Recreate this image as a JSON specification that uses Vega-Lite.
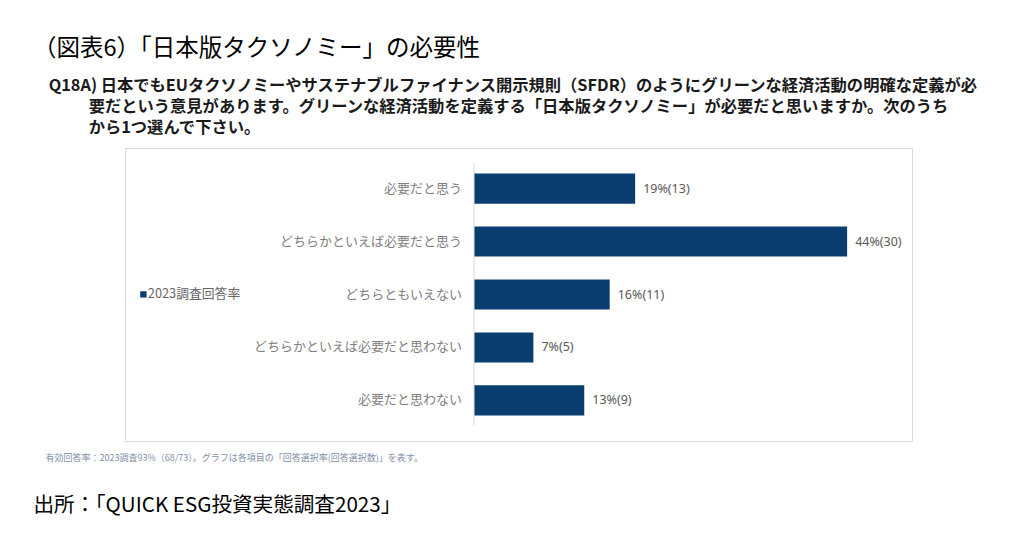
{
  "$schema": "https://vega.github.io/schema/vega-lite/v6.json",
  "width": 787,
  "height": 293,
  "autosize": {"type": "none"},
  "padding": {"left": 125, "top": 148, "right": 111, "bottom": 110},
  "background": "white",
  "config": {"font": "Noto Sans CJK JP", "view": {"stroke": "#d9d9d9", "strokeWidth": 1}},
  "title": {
    "text": "（図表6）「日本版タクソノミー」の必要性",
    "fontSize": 23.5,
    "fontWeight": "normal",
    "color": "#000000",
    "anchor": "start",
    "frame": "group",
    "dx": -92,
    "offset": 12,
    "subtitle": [
      "\u2800\u00a0Q18A) 日本でもEUタクソノミーやサステナブルファイナンス開示規則（SFDR）のようにグリーンな経済活動の明確な定義が必",
      "\u2800\u3000\u3000\u00a0\u00a0\u00a0要だという意見があります。グリーンな経済活動を定義する「日本版タクソノミー」が必要だと思いますか。次のうち",
      "\u2800\u3000\u3000\u00a0\u00a0\u00a0から1つ選んで下さい。"
    ],
    "subtitleFontSize": 16.3,
    "subtitleFontWeight": "bold",
    "subtitleColor": "#1a1a1a",
    "subtitleLineHeight": 21,
    "subtitlePadding": 17
  },
  "datasets": {
    "bars": [
      {"cat": "必要だと思う", "pct": 19, "n": 13},
      {"cat": "どちらかといえば必要だと思う", "pct": 44, "n": 30},
      {"cat": "どちらともいえない", "pct": 16, "n": 11},
      {"cat": "どちらかといえば必要だと思わない", "pct": 7, "n": 5},
      {"cat": "必要だと思わない", "pct": 13, "n": 9}
    ],
    "axisline": [{"top": "必要だと思う", "bottom": "必要だと思わない"}]
  },
  "layer": [
    {
      "data": {"name": "bars"},
      "mark": {"type": "bar", "color": "#0b3e70"},
      "encoding": {
        "y": {
          "field": "cat", "type": "nominal",
          "scale": {"domain": ["必要だと思う", "どちらかといえば必要だと思う", "どちらともいえない", "どちらかといえば必要だと思わない", "必要だと思わない"], "paddingInner": 0.43, "paddingOuter": 0.48},
          "axis": {"labels": false, "ticks": false, "domain": false, "grid": false,
            "title": "出所：「QUICK ESG投資実態調査2023」", "titleAngle": 0, "titleX": -92, "titleY": 357,
            "titleAlign": "left", "titleBaseline": "middle", "titleFontSize": 20.6, "titleFontWeight": "normal", "titleColor": "#000000"}
        },
        "x": {
          "field": "pct", "type": "quantitative",
          "scale": {"domain": [-41.16, 51.65], "nice": false, "zero": false},
          "axis": {"labels": false, "ticks": false, "domain": false, "grid": false,
            "title": "有効回答率：2023調査93%（68/73）。グラフは各項目の「回答選択率(回答選択数)」を表す。",
            "titleX": -80, "titleY": 16, "titleAlign": "left", "titleAnchor": "start", "titleBaseline": "middle",
            "titleFontSize": 9, "titleFontWeight": "normal", "titleColor": "#7f90a8"}
        },
        "x2": {"datum": 0},
        "color": {
          "datum": "2023調査回答率",
          "scale": {"range": ["#0b3e70"]},
          "legend": {"orient": "none", "legendX": 12, "legendY": 140, "title": null,
            "symbolType": "square", "symbolSize": 40, "symbolStrokeWidth": 0,
            "labelFontSize": 12.8, "labelColor": "#666666", "labelOffset": -2}
        }
      }
    },
    {
      "data": {"name": "bars"},
      "transform": [{"calculate": "datum.pct + '%(' + datum.n + ')'", "as": "label"}],
      "mark": {"type": "text", "align": "left", "baseline": "middle", "dx": 8, "fontSize": 12.5, "font": "Noto Sans", "color": "#595959"},
      "encoding": {
        "y": {"field": "cat", "type": "nominal"},
        "x": {"field": "pct", "type": "quantitative"},
        "text": {"field": "label"}
      }
    },
    {
      "data": {"name": "bars"},
      "mark": {"type": "text", "align": "right", "baseline": "middle", "dx": -12, "fontSize": 13, "color": "#808080"},
      "encoding": {
        "y": {"field": "cat", "type": "nominal"},
        "x": {"datum": 0},
        "text": {"field": "cat"}
      }
    },
    {
      "data": {"name": "axisline"},
      "mark": {"type": "rule", "color": "#d9d9d9", "yOffset": -26, "y2Offset": 25},
      "encoding": {
        "x": {"datum": 0},
        "y": {"field": "top", "type": "nominal"},
        "y2": {"field": "bottom"}
      }
    }
  ]
}
